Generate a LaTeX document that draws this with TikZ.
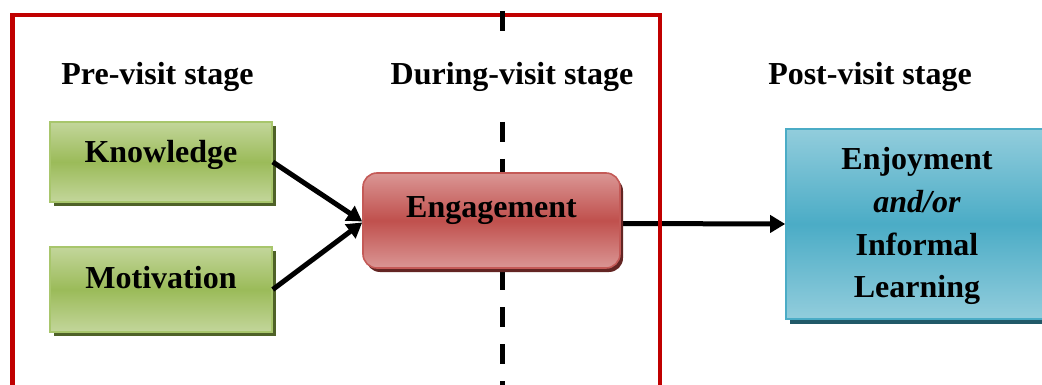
\documentclass[tikz,border=0pt]{standalone}
\usepackage{fontspec}
\setmainfont{Liberation Serif}
\usetikzlibrary{arrows.meta,shadows}
\pgfdeclarelayer{background}
\pgfsetlayers{background,main}

\definecolor{grnLight}{HTML}{C3D69B}
\definecolor{grnMid}{HTML}{9BBB59}
\definecolor{grnEdge}{HTML}{A8C66C}
\definecolor{grnShade}{HTML}{4F6228}
\definecolor{redLight}{HTML}{DA9694}
\definecolor{redMid}{HTML}{C0504D}
\definecolor{redEdge}{HTML}{C45A57}
\definecolor{redShade}{HTML}{632523}
\definecolor{bluLight}{HTML}{92CDDC}
\definecolor{bluMid}{HTML}{4BACC6}
\definecolor{bluShade}{HTML}{215968}
\definecolor{frameRed}{HTML}{C00000}

\tikzset{
  txt/.style={font=\fontsize{32}{42}\selectfont\bfseries, inner sep=0pt, anchor=base},
  stagelabel/.style={txt, fill=white, inner xsep=4pt, inner ysep=28pt},
  greenbox/.style={rectangle, inner sep=0pt, draw=grnEdge, line width=1.6pt,
    top color=grnLight, bottom color=grnLight, middle color=grnMid,
    drop shadow={shadow xshift=4pt, shadow yshift=-4pt, fill=grnShade, opacity=1}},
  redbox/.style={rectangle, rounded corners=14pt, inner sep=0pt, draw=redEdge, line width=1.6pt,
    top color=redLight, bottom color=redLight, middle color=redMid,
    drop shadow={shadow xshift=3pt, shadow yshift=-4pt, fill=redShade, opacity=1}},
  bluebox/.style={rectangle, inner sep=0pt, draw=bluMid, line width=1.6pt,
    top color=bluLight, bottom color=bluLight, middle color=bluMid,
    drop shadow={shadow xshift=4pt, shadow yshift=-5pt, fill=bluShade, opacity=1}},
  arr/.style={line width=5pt, -{Triangle[length=15pt,width=17pt]}},
  framer/.style={draw=frameRed, line width=4.5pt},
  divider/.style={line width=5pt, dash pattern=on 20pt off 17pt}
}

\begin{document}
\begin{tikzpicture}[x=1pt,y=-1pt]
\useasboundingbox (0,0) rectangle (1042,385);

% stage headings
\node[stagelabel] (pre)  at (157.5,85) {Pre-visit stage};
\node[stagelabel] (dur)  at (512,85)   {During-visit stage};
\node[stagelabel] (post) at (870,85)   {Post-visit stage};

% boxes
\node[greenbox, minimum width=222pt, minimum height=80pt] (kn) at (161,162) {};
\node[greenbox, minimum width=222pt, minimum height=85pt] (mo) at (161,289.5) {};
\node[redbox, minimum width=257pt, minimum height=95pt] (en) at (491.5,220.5) {};
\node[bluebox, minimum width=264pt, minimum height=190pt] (out) at (918,224) {};

% box texts
\node[txt] (knT) at (161,163) {Knowledge};
\node[txt] (moT) at (161,288) {Motivation};
\node[txt] (enT) at (491.5,218) {Engagement};
\node[txt] (o1) at (917,170) {Enjoyment};
\node[txt] (o2) at (917,212) {\itshape and/or};
\node[txt] (o3) at (917,255) {Informal};
\node[txt] (o4) at (917,297) {Learning};

% connectors into the engagement box
\draw[arr] (kn.east) -- ([yshift=-1pt]en.west);
\draw[arr] (mo.east) -- ([yshift=-2pt]en.west);

\coordinate (dtop) at (502,11);
\coordinate (dbot) at (502,392);

\begin{pgfonlayer}{background}
  % engagement to outcome
  \draw[arr] ([yshift=-3pt]en.east) -- (out.west);
  % frame around pre- and during-visit stages
  \draw[framer] (12.5,15) rectangle (660,387);
  % dashed divider
  \draw[divider] (dtop) -- (dbot);
\end{pgfonlayer}
\end{tikzpicture}
\end{document}
